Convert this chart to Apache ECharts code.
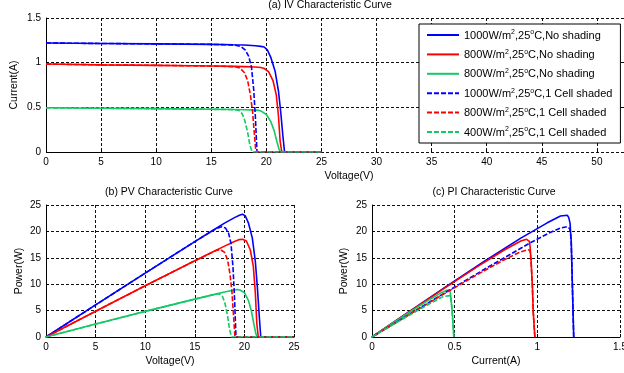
<!DOCTYPE html>
<html>
<head>
<meta charset="utf-8">
<script src="https://cdn.jsdelivr.net/npm/echarts@6/dist/echarts.min.js"></script>
<style>
  html, body { margin: 0; padding: 0; background: #fff; }
  #chart { width: 624px; height: 373px; }
</style>
</head>
<body>
<div id="chart"></div>
<script>
// Module I-V measurements (voltage in V, current in A)
const V_1000 = [0, 5, 10, 15, 17, 18, 19, 19.5, 19.8, 20.1, 20.4, 20.8, 21.1, 21.3, 21.5, 21.65, 25];
const I_1000 = [1.22, 1.215, 1.21, 1.205, 1.2, 1.198, 1.19, 1.182, 1.175, 1.14, 1.06, 0.9, 0.68, 0.45, 0.18, 0, 0];

const V_800 = [0, 5, 10, 15, 17, 18, 19, 19.5, 19.8, 20.2, 20.6, 20.9, 21.1, 21.25, 21.4, 25];
const I_800 = [0.985, 0.975, 0.97, 0.962, 0.958, 0.956, 0.952, 0.946, 0.935, 0.9, 0.8, 0.64, 0.4, 0.12, 0, 0];

const V_400 = [0, 5, 10, 15, 17, 18, 19, 19.3, 19.6, 20, 20.4, 20.7, 20.95, 21.15, 21.3, 25];
const I_400 = [0.495, 0.49, 0.485, 0.478, 0.475, 0.473, 0.469, 0.466, 0.452, 0.42, 0.34, 0.24, 0.12, 0.03, 0, 0];

const V_1000_SH = [0, 5, 10, 15, 16.5, 17.2, 17.7, 18.1, 18.4, 18.65, 18.85, 19.0, 19.15, 25];
const I_1000_SH = [1.22, 1.215, 1.21, 1.205, 1.2, 1.195, 1.18, 1.14, 1.07, 0.95, 0.7, 0.4, 0, 0];

const V_800_SH = [0, 5, 10, 15, 16.5, 17.2, 17.6, 18.0, 18.3, 18.55, 18.75, 18.9, 19.05, 25];
const I_800_SH = [0.985, 0.975, 0.97, 0.962, 0.958, 0.955, 0.94, 0.89, 0.8, 0.64, 0.45, 0.22, 0, 0];

const V_400_SH = [0, 5, 10, 15, 16.5, 17.2, 17.5, 17.8, 18.05, 18.3, 18.5, 18.7, 25];
const I_400_SH = [0.495, 0.49, 0.485, 0.478, 0.476, 0.473, 0.465, 0.43, 0.35, 0.22, 0.08, 0, 0];

// Legend wording: irradiance value and condition for each curve
const LEGEND_IRR = ['1000', '800', '800', '1000', '800', '400'];
const LEGEND_COND = ['No shading', 'No shading', 'No shading', '1 Cell shaded', '1 Cell shaded', '1 Cell shaded'];

// Axis tick ranges
const IV_X = { min: 0, max: 55, interval: 5 };
const IV_Y = { min: 0, max: 1.5, interval: 0.5 };
const PV_X = { min: 0, max: 25, interval: 5 };
const P_Y = { min: 0, max: 25, interval: 5 };
const PI_X = { min: 0, max: 1.5, interval: 0.5 };

const BLUE = '#0000ff', RED = '#ff0000', GREEN = '#14c864';
const FONT = 'Liberation Sans, Arial, sans-serif';

const curves = [
  { key: 'c1000', v: V_1000, i: I_1000, color: BLUE, dashed: false },
  { key: 'c800', v: V_800, i: I_800, color: RED, dashed: false },
  { key: 'c400', v: V_400, i: I_400, color: GREEN, dashed: false },
  { key: 'c1000s', v: V_1000_SH, i: I_1000_SH, color: BLUE, dashed: true },
  { key: 'c800s', v: V_800_SH, i: I_800_SH, color: RED, dashed: true },
  { key: 'c400s', v: V_400_SH, i: I_400_SH, color: GREEN, dashed: true }
];

const legendText = {};
curves.forEach((c, k) => {
  legendText[c.key] = '{t|' + LEGEND_IRR[k] + 'W/m}{s|2}{t|,25}{s|o}{t|C,' + LEGEND_COND[k] + '}';
});

const gridLine = { show: true, lineStyle: { color: '#111', width: 1, type: [3, 2] } };
const axisLbl = { color: '#000', fontSize: 10, fontFamily: FONT, margin: 5 };
const nameStyle = { color: '#000', fontSize: 10.5, fontFamily: FONT };

function xAxis(grid, r, name, showLine) {
  return Object.assign({
    type: 'value', gridIndex: grid, name: name, nameLocation: 'middle', nameGap: 19,
    nameMoveOverlap: false,
    nameTextStyle: nameStyle,
    axisLine: { show: showLine, onZero: false, lineStyle: { color: '#000', width: 1 } },
    axisTick: { show: true, inside: true, length: 3, lineStyle: { color: '#000' } },
    axisLabel: axisLbl, splitLine: gridLine
  }, r);
}
function yAxis(grid, r, name, gap) {
  return Object.assign({
    type: 'value', gridIndex: grid, name: name, nameLocation: 'middle', nameGap: gap,
    nameMoveOverlap: false,
    nameTextStyle: nameStyle,
    axisLine: { show: true, onZero: false, lineStyle: { color: '#000', width: 1 } },
    axisTick: { show: true, inside: true, length: 3, lineStyle: { color: '#000' } },
    axisLabel: axisLbl, splitLine: gridLine
  }, r);
}

const series = [];
curves.forEach((c, k) => {
  const p = c.v.map((v, j) => v * c.i[j]);
  const lineStyle = { color: c.color, width: 1.6, type: c.dashed ? [5, 2] : 'solid' };
  const base = { type: 'line', name: c.key, symbol: 'none', showSymbol: false, lineStyle: lineStyle,
    itemStyle: { color: c.color }, z: 3 + k, animation: false, silent: true };
  const iv = Object.assign({}, base, { xAxisIndex: 0, yAxisIndex: 0, data: c.v.map((v, j) => [v, c.i[j]]) });
  if (k === 0) {
    // solid baseline of the I-V axis up to the last drawn voltage
    iv.markLine = { silent: true, symbol: 'none', label: { show: false },
      lineStyle: { color: '#000', width: 1, type: 'solid' },
      data: [[{ coord: [PV_X.min, 0] }, { coord: [PV_X.max, 0] }]] };
  }
  series.push(iv);
  series.push(Object.assign({}, base, { xAxisIndex: 1, yAxisIndex: 1, data: c.v.map((v, j) => [v, p[j]]) }));
  series.push(Object.assign({}, base, { xAxisIndex: 2, yAxisIndex: 2, data: c.i.map((i, j) => [i, p[j]]) }));
});

const titleStyle = { color: '#000', fontSize: 10.5, fontWeight: 'normal', fontFamily: FONT };

const option = {
  animation: false,
  backgroundColor: '#fff',
  title: [
    { text: '(a) IV Characteristic Curve', left: 330, top: 0, textAlign: 'center', padding: 0, textStyle: titleStyle },
    { text: '(b) PV Characteristic Curve', left: 169, top: 187, textAlign: 'center', padding: 0, textStyle: titleStyle },
    { text: '(c) PI Characteristic Curve', left: 494, top: 187, textAlign: 'center', padding: 0, textStyle: titleStyle }
  ],
  grid: [
    { left: 46, top: 18, width: 606, height: 134, outerBoundsMode: 'none', containLabel: false },
    { left: 46, top: 205, width: 248, height: 132, outerBoundsMode: 'none', containLabel: false },
    { left: 372, top: 205, width: 248, height: 132, outerBoundsMode: 'none', containLabel: false }
  ],
  xAxis: [
    xAxis(0, IV_X, 'Voltage(V)', false),
    xAxis(1, PV_X, 'Voltage(V)', true),
    xAxis(2, PI_X, 'Current(A)', true)
  ],
  yAxis: [
    yAxis(0, IV_Y, 'Current(A)', 26),
    yAxis(1, P_Y, 'Power(W)', 21),
    yAxis(2, P_Y, 'Power(W)', 22)
  ],
  legend: {
    orient: 'vertical', left: 419, top: 24,
    padding: [5, 8, 5, 7], itemWidth: 32, itemHeight: 12, itemGap: 7.4,
    backgroundColor: '#fff', borderColor: '#000', borderWidth: 1, borderRadius: 0,
    selectedMode: false,
    itemStyle: { opacity: 0 },
    data: curves.map(c => c.key),
    formatter: name => legendText[name],
    textStyle: {
      color: '#000', fontFamily: FONT,
      rich: {
        t: { fontSize: 11, fontFamily: FONT, color: '#000', lineHeight: 12, verticalAlign: 'bottom' },
        s: { fontSize: 7, fontFamily: FONT, color: '#000', lineHeight: 12, verticalAlign: 'top' }
      }
    }
  },
  series: series
};

const chart = echarts.init(document.getElementById('chart'), null, { renderer: 'canvas' });
chart.setOption(option);
</script>
</body>
</html>
